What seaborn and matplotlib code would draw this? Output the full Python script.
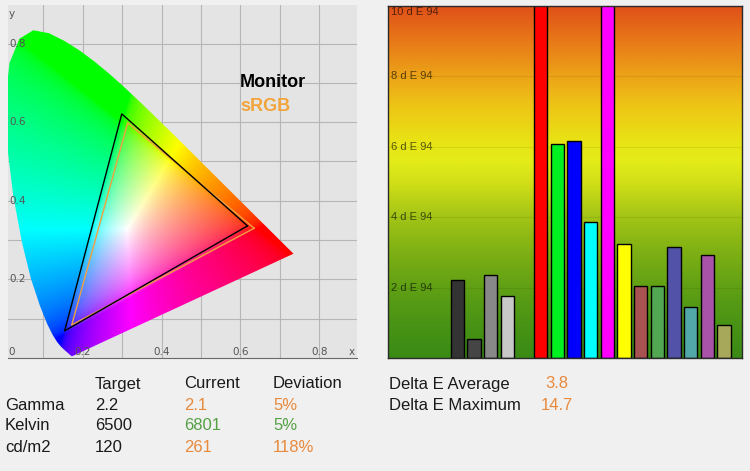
import numpy as np
import matplotlib
matplotlib.use("Agg")
import matplotlib.pyplot as plt
from matplotlib.colors import LinearSegmentedColormap
from matplotlib.patches import Polygon
import seaborn as sns
import pandas as pd

# ---------------- data ----------------
# CIE 1931 spectral locus (380..700 nm, 5 nm)
locus_x = [0.1741, 0.1740, 0.1738, 0.1736, 0.1733, 0.1730, 0.1726, 0.1721, 0.1714, 0.1703,
           0.1689, 0.1669, 0.1644, 0.1611, 0.1566, 0.1510, 0.1440, 0.1355, 0.1241, 0.1096,
           0.0913, 0.0687, 0.0454, 0.0235, 0.0082, 0.0039, 0.0139, 0.0389, 0.0743, 0.1142,
           0.1547, 0.1929, 0.2296, 0.2658, 0.3016, 0.3373, 0.3731, 0.4087, 0.4441, 0.4788,
           0.5125, 0.5448, 0.5752, 0.6029, 0.6270, 0.6482, 0.6658, 0.6801, 0.6915, 0.7006,
           0.7079, 0.7140, 0.7190, 0.7230, 0.7260, 0.7283, 0.7300, 0.7311, 0.7320, 0.7327,
           0.7334, 0.7340, 0.7344, 0.7346, 0.7347]
locus_y = [0.0050, 0.0050, 0.0049, 0.0049, 0.0048, 0.0048, 0.0048, 0.0048, 0.0051, 0.0058,
           0.0069, 0.0086, 0.0109, 0.0138, 0.0177, 0.0227, 0.0297, 0.0399, 0.0578, 0.0868,
           0.1327, 0.2007, 0.2950, 0.4127, 0.5384, 0.6548, 0.7502, 0.8120, 0.8338, 0.8262,
           0.8059, 0.7816, 0.7543, 0.7243, 0.6923, 0.6589, 0.6245, 0.5896, 0.5547, 0.5202,
           0.4866, 0.4544, 0.4242, 0.3965, 0.3725, 0.3514, 0.3340, 0.3197, 0.3083, 0.2993,
           0.2920, 0.2859, 0.2809, 0.2770, 0.2740, 0.2717, 0.2700, 0.2689, 0.2680, 0.2673,
           0.2666, 0.2660, 0.2656, 0.2654, 0.2653]

monitor_x = [0.618, 0.299, 0.154]
monitor_y = [0.336, 0.621, 0.069]
srgb_x = [0.635, 0.314, 0.172]
srgb_y = [0.330, 0.598, 0.084]
gamut_labels = ["Monitor", "sRGB"]

cie_ticks = [0.2, 0.4, 0.6, 0.8]

patch_names = ["Gray 1", "Gray 2", "Gray 3", "Gray 4",
               "Red", "Green", "Blue", "Cyan", "Magenta", "Yellow",
               "Skin", "Foliage", "Blue sky", "Teal", "Purple", "Olive"]
patch_de = [2.23, 0.54, 2.35, 1.77,
            14.7, 6.09, 6.17, 3.85, 11.0, 3.25,
            2.04, 2.04, 3.14, 1.45, 2.94, 0.94]
patch_colors = ["#333333", "#454545", "#888888", "#c8c8c8",
                "#ff0000", "#00f020", "#0000ff", "#00ffff", "#ff00ff", "#ffff00",
                "#a85252", "#52a852", "#5252a8", "#52a8a8", "#a852a8", "#a8a85a"]
patch_order = ["_p0", "_p1", "_p2", "_p3",
               "Gray 1", "Gray 2", "Gray 3", "Gray 4", "_gap",
               "Red", "Green", "Blue", "Cyan", "Magenta", "Yellow",
               "Skin", "Foliage", "Blue sky", "Teal", "Purple", "Olive"]
de_ticks = [2, 4, 6, 8, 10]

table_header = ["Target", "Current", "Deviation"]
table_rows = ["Gamma", "Kelvin", "cd/m2"]
target_vals = ["2.2", "6500", "120"]
current_vals = ["2.1", "6801", "261"]
deviation_vals = ["5%", "5%", "118%"]
row_status = ["warn", "ok", "warn"]
delta_labels = ["Delta E Average", "Delta E Maximum"]
delta_vals = ["3.8", "14.7"]

# ---------------- style ----------------
plt.rcParams['font.family'] = ['Liberation Sans', 'DejaVu Sans']
ORANGE = "#e8893c"
GREEN = "#55a045"
status_col = {"warn": ORANGE, "ok": GREEN}

W, H = 750, 471
fig = plt.figure(figsize=(7.5, 4.71), dpi=100, facecolor="#f0f0f0")

def px_rect(l, t, r, b):
    return [l / W, (H - b) / H, (r - l) / W, (b - t) / H]

# ---------------- left: CIE diagram ----------------
ax1 = fig.add_axes(px_rect(8, 5, 357, 358))
ax1.set_facecolor("#e4e4e4")

nx, ny = 500, 500
ext = (0.0, 0.75, 0.001, 0.85)
xs = np.linspace(ext[0], ext[1], nx)
ys = np.linspace(ext[2], ext[3], ny)
X, Y = np.meshgrid(xs, ys)
XYZ = np.stack([X / Y, np.ones_like(X), (1 - X - Y) / Y], axis=-1)
M = np.array([[3.2406, -1.5372, -0.4986],
              [-0.9689, 1.8758, 0.0415],
              [0.0557, -0.2040, 1.0570]])
rgb = XYZ @ M.T
rgb = np.clip(rgb, 0, None)
rgb = rgb / np.maximum(rgb.max(axis=-1, keepdims=True), 1e-9)
rgb = np.where(rgb <= 0.0031308, 12.92 * rgb, 1.055 * np.power(rgb, 1 / 2.4) - 0.055)
rgb = np.clip(rgb, 0, 1)
im = ax1.imshow(rgb, extent=ext, origin='lower', aspect='auto',
                interpolation='bilinear', zorder=1)
poly = Polygon(np.column_stack([locus_x, locus_y]), closed=True,
               facecolor='none', edgecolor='none', transform=ax1.transData)
ax1.add_patch(poly)
im.set_clip_path(poly)

sns.lineplot(x=srgb_x + srgb_x[:1], y=srgb_y + srgb_y[:1], sort=False, estimator=None,
             color="#f0a040", lw=1.0, ax=ax1, zorder=3)
sns.lineplot(x=monitor_x + monitor_x[:1], y=monitor_y + monitor_y[:1], sort=False,
             estimator=None, color="black", lw=1.0, ax=ax1, zorder=4)

ax1.set_xticks(np.arange(0.1, 0.95, 0.1))
ax1.set_yticks(np.arange(0.1, 0.95, 0.1))
ax1.grid(True, color="#b6b6b6", lw=0.8)
ax1.set_axisbelow(True)
ax1.tick_params(length=0, labelbottom=False, labelleft=False)
for s in ["top", "right", "left"]:
    ax1.spines[s].set_visible(False)
ax1.spines["bottom"].set_color("#6a6a6a")
ax1.set_xlim(0.0102, 0.896)
ax1.set_ylim(0, 0.898)
ax1.set_xlabel("")
ax1.set_ylabel("")

lab_kw = dict(fontsize=7.5, color="#555555", family=['DejaVu Sans'], zorder=5)
for v in cie_ticks:
    ax1.text(v, 0.015, f"{v:.1f}", ha='center', va='center', **lab_kw)
    ax1.text(0.013, v, f"{v:.1f}", ha='left', va='center', **lab_kw)
ax1.text(0.02, 0.015, "0", ha='center', va='center', **lab_kw)
ax1.text(0.883, 0.015, "x", ha='center', va='center', **lab_kw)
ax1.text(0.02, 0.875, "y", ha='center', va='center', **lab_kw)

ax1.text(0.599, 0.700, gamut_labels[0], fontsize=13, fontweight='bold',
         color="black", ha='left', va='center', zorder=5)
ax1.text(0.599, 0.641, gamut_labels[1], fontsize=13, fontweight='bold',
         color="#f2a43a", ha='left', va='center', zorder=5)

# ---------------- right: delta E bars ----------------
ax2 = fig.add_axes(px_rect(388, 6, 742, 358))
xl = (-0.16, 21.08)
grad_cmap = LinearSegmentedColormap.from_list("de", [
    (0.00, "#3a8a16"), (0.10, "#4a9414"), (0.20, "#60a014"), (0.30, "#7eb014"),
    (0.40, "#a2c416"), (0.50, "#d2e018"), (0.56, "#e4ec18"), (0.62, "#e8e214"),
    (0.72, "#eec416"), (0.80, "#eca418"), (0.90, "#e87a18"), (1.00, "#e0501a")])
grad = np.linspace(0, 1, 256).reshape(-1, 1)
ax2.imshow(grad, cmap=grad_cmap, extent=(xl[0], xl[1], 0, 10), origin='lower',
           aspect='auto', zorder=0)

df = pd.DataFrame({"patch": patch_names, "de": patch_de})
sns.barplot(data=df, x="patch", y="de", order=patch_order, hue="patch",
            hue_order=patch_names, palette=dict(zip(patch_names, patch_colors)),
            saturation=1, edgecolor="black", linewidth=1, width=0.8,
            errorbar=None, legend=False, ax=ax2, zorder=2)

ax2.set_xlim(*xl)
ax2.set_ylim(0, 10)
ax2.set_yticks(de_ticks[:-1])
ax2.grid(True, axis='y', color="#000000", alpha=0.07, lw=0.8)
ax2.grid(False, axis='x')
ax2.set_axisbelow(True)
ax2.tick_params(length=0, labelbottom=False, labelleft=False)
ax2.set_xlabel("")
ax2.set_ylabel("")
for s in ax2.spines.values():
    s.set_color("#2a2a2a")
    s.set_linewidth(1.0)
for v in de_ticks:
    if v < 10:
        ax2.text(0.03, v, f"{v} d E 94", ha='left', va='center', fontsize=8,
                 color="black", alpha=0.62, zorder=3)
    else:
        ax2.text(0.03, 9.96, f"{v} d E 94", ha='left', va='top', fontsize=8,
                 color="black", alpha=0.62, zorder=3)

# ---------------- bottom table ----------------
fs = 12
def ftext(x, y, s, color="#1a1a1a", ha='left'):
    fig.text(x / W, 1 - y / H, s, ha=ha, va='center', fontsize=fs, color=color)

col_x = [95, 184, 273]
row_y = [405, 426, 447]
for cx, h in zip(col_x, table_header):
    ftext(cx, 384, h)
for i, ry in enumerate(row_y):
    ftext(5, ry, table_rows[i])
    ftext(col_x[0], ry, target_vals[i])
    ftext(col_x[1], ry, current_vals[i], status_col[row_status[i]])
    ftext(col_x[2], ry, deviation_vals[i], status_col[row_status[i]])
for i, ry in enumerate([384, 405]):
    ftext(389, ry, delta_labels[i])
    ftext(557, ry, delta_vals[i], ORANGE, ha='center')

fig.savefig("out.png", dpi=100, facecolor=fig.get_facecolor())
